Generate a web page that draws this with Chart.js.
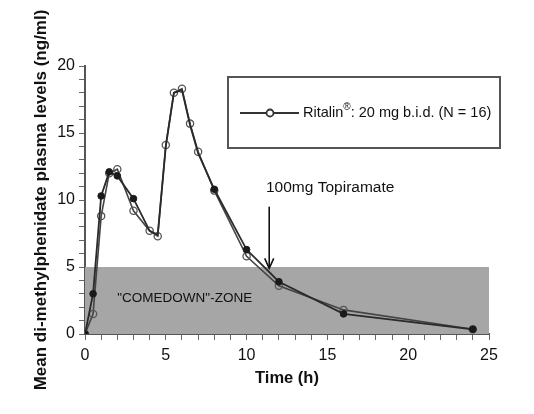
<!DOCTYPE html>
<html><head><meta charset="utf-8">
<script src="https://cdn.jsdelivr.net/npm/chart.js@4.4.1/dist/chart.umd.min.js"></script>
<style>html,body{margin:0;padding:0;background:#fff}#wrap{width:534px;height:414px}</style>
</head><body><div id="wrap"><canvas id="c" width="534" height="414"></canvas></div>
<script>
const times = [0,0.5,1,1.5,2,3,4,4.5,5,5.5,6,6.5,7,8,10,12,16,24];
const ritalin = [0,1.5,8.8,12.0,12.3,9.2,7.7,7.3,14.1,18.0,18.3,15.7,13.6,10.7,5.8,3.6,1.8,0.35];
const other = [0,3.0,10.3,12.1,11.8,10.1,7.7,7.4,14.0,18.0,18.2,15.6,13.5,10.8,6.3,3.9,1.5,0.35];
const xTicks = [0,5,10,15,20,25];
const yTicks = [0,5,10,15,20];
const zoneX = [0,25];
const zoneY = [0,5];
const zoneLabel = '"COMEDOWN"-ZONE';
const zoneLabelAt = [2.0,2.7];
const arrowX = 11.4;
const arrowY = [9.5,4.9];
const arrowLabel = '100mg Topiramate';
const arrowLabelAt = [11.2,10.9];
const legendName = 'Ritalin';
const legendSup = '®';
const legendRest = ': 20 mg b.i.d. (N = 16)';

const FONT = '"Liberation Sans", Arial, sans-serif';
const pts = (xs, ys) => xs.map((x,i)=>({x, y: ys[i]}));

const overlay = {
  id:'overlay',
  beforeDatasetsDraw(chart){
    const {ctx, scales:{x,y}} = chart;
    ctx.save();
    ctx.fillStyle = '#a6a6a6';
    const x0 = x.getPixelForValue(zoneX[0]), x1 = x.getPixelForValue(zoneX[1]);
    const y0 = y.getPixelForValue(zoneY[1]), y1 = y.getPixelForValue(zoneY[0]);
    ctx.fillRect(x0, y0, x1-x0, y1-y0);
    ctx.fillStyle = '#111';
    ctx.font = '13.5px ' + FONT;
    ctx.textBaseline = 'middle';
    ctx.fillText(zoneLabel, x.getPixelForValue(zoneLabelAt[0]), y.getPixelForValue(zoneLabelAt[1]));
    ctx.restore();
  },
  afterDatasetsDraw(chart){
    const {ctx, scales:{x,y}, chartArea} = chart;
    ctx.save();
    const ax = x.getPixelForValue(arrowX);
    const ay0 = y.getPixelForValue(arrowY[0]), ay1 = y.getPixelForValue(arrowY[1]);
    ctx.strokeStyle = '#111'; ctx.lineWidth = 1.6;
    ctx.beginPath(); ctx.moveTo(ax, ay0); ctx.lineTo(ax, ay1); ctx.stroke();
    ctx.beginPath(); ctx.moveTo(ax-4.5, ay1-10); ctx.lineTo(ax, ay1); ctx.lineTo(ax+4.5, ay1-10); ctx.stroke();
    ctx.fillStyle = '#111';
    ctx.font = '15.5px ' + FONT;
    ctx.textBaseline = 'middle';
    ctx.fillText(arrowLabel, x.getPixelForValue(arrowLabelAt[0]), y.getPixelForValue(arrowLabelAt[1]));
    const lx = chartArea.left + 143, ly = chartArea.top + 11, lw = 272, lh = 71;
    ctx.fillStyle = '#fff';
    ctx.fillRect(lx, ly, lw, lh);
    ctx.strokeStyle = '#555'; ctx.lineWidth = 2;
    ctx.strokeRect(lx, ly, lw, lh);
    const my = ly + 36;
    ctx.strokeStyle = '#333'; ctx.lineWidth = 1.8;
    ctx.beginPath(); ctx.moveTo(lx+12, my); ctx.lineTo(lx+71, my); ctx.stroke();
    ctx.fillStyle = '#fff';
    ctx.beginPath(); ctx.arc(lx+42, my, 3.5, 0, Math.PI*2); ctx.fill(); ctx.stroke();
    ctx.fillStyle = '#111';
    ctx.font = '14.5px ' + FONT;
    ctx.textBaseline = 'middle';
    let tx = lx + 75;
    ctx.fillText(legendName, tx, my); tx += ctx.measureText(legendName).width;
    ctx.font = '10px ' + FONT;
    ctx.fillText(legendSup, tx, my-6); tx += ctx.measureText(legendSup).width;
    ctx.font = '14.5px ' + FONT;
    ctx.fillText(legendRest, tx, my);
    ctx.restore();
  }
};

new Chart(document.getElementById('c'), {
  type:'line',
  data:{
    datasets:[
      {label:'Other', data: pts(times, other), borderColor:'#2a2a2a', borderWidth:1.8,
       pointRadius:(c)=> (c.raw && c.raw.x > 3.5 && c.raw.x < 7.5) ? 0 : 3.3,
       pointBackgroundColor:'#1a1a1a', pointBorderColor:'#1a1a1a', pointBorderWidth:1, tension:0},
      {label:'Ritalin', data: pts(times, ritalin), borderColor:'#444', borderWidth:1.6,
       pointRadius:3.6, pointBackgroundColor:'rgba(255,255,255,0)', pointBorderColor:'#555', pointBorderWidth:1.3, tension:0}
    ]
  },
  options:{
    responsive:false, animation:false, devicePixelRatio:1,
    layout:{padding:{left:31, right:45, top:66, bottom:26}},
    plugins:{legend:{display:false}, tooltip:{enabled:false}},
    scales:{
      x:{type:'linear', min:0, max:25,
        afterFit(s){ s.height = 54; },
        border:{color:'#555', width:2},
        grid:{drawOnChartArea:false, tickLength:6, color:'#666', tickWidth:1},
        ticks:{stepSize:1, autoSkip:false, maxRotation:0, padding:6,
          callback:(v)=> xTicks.includes(v) ? String(v) : '',
          color:'#111', font:{family:FONT, size:16}},
        title:{display:true, text:'Time (h)', color:'#111', font:{family:FONT, size:16.5, weight:'bold'}, padding:{top:0,bottom:0}}
      },
      y:{type:'linear', min:0, max:20,
        afterFit(s){ s.width = 54; },
        border:{color:'#555', width:2},
        grid:{drawOnChartArea:false, tickLength:6, color:'#666', tickWidth:1},
        ticks:{stepSize:1, autoSkip:false, padding:4,
          callback:(v)=> yTicks.includes(v) ? String(v) : '',
          color:'#111', font:{family:FONT, size:16}},
        title:{display:true, text:'Mean di-methylphenidate plasma levels (ng/ml)', color:'#111', font:{family:FONT, size:17, weight:'bold'}, padding:{top:0,bottom:0}}
      }
    }
  },
  plugins:[overlay]
});
</script></body></html>
